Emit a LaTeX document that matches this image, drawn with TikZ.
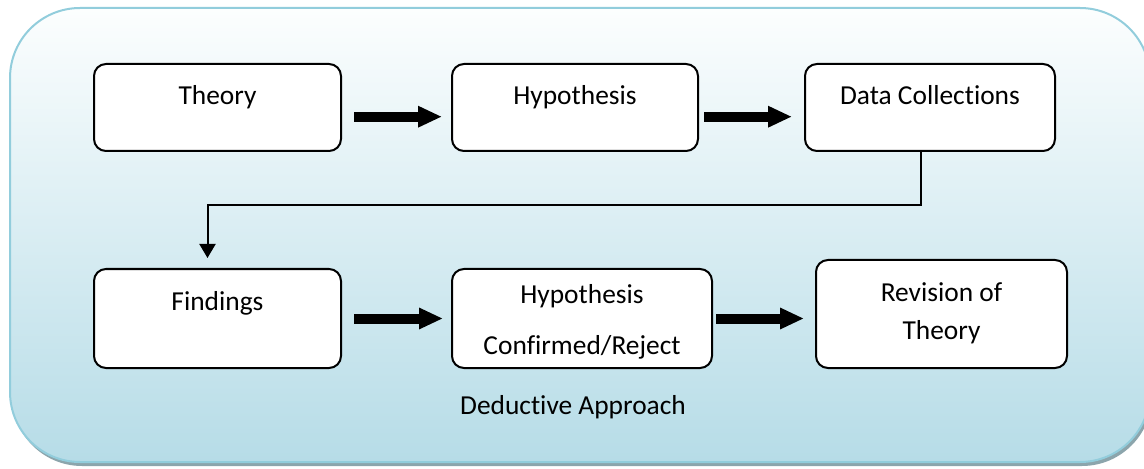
\documentclass[tikz,border=0pt]{standalone}
\usepackage{fontspec}
\setmainfont{Carlito}[Ligatures = NoCommon]
\usepackage{xcolor}
\usepackage{tikz}
\usetikzlibrary{arrows.meta}

\definecolor{aqualine}{RGB}{146,205,220}
\definecolor{aquatop}{RGB}{252,254,254}
\definecolor{aquabottom}{RGB}{182,220,231}
\definecolor{shadowgray}{RGB}{140,165,172}

\begin{document}
\begin{tikzpicture}[
        stage/.style = {draw, line width = 0.05cm, rounded corners = 0.3cm, fill = white,
            inner sep = 0pt, align = center, font = \fontsize{19.5}{27}\selectfont},
        blockarrow/.style = {line width = 0.25cm, -{Triangle[length = 0.6cm, width = 0.5cm]}},
        thinarrow/.style = {line width = 0.05cm, -{Triangle[length = 0.35cm, width = 0.4cm]}}
    ]
        \useasboundingbox (0, 0) rectangle (28.6, -11.725);

        % background panel
        \fill[shadowgray, rounded corners = 1.75cm] (0.3, -0.3) rectangle (28.8, -11.65);
        \shadedraw[top color = aquatop, bottom color = aquabottom, draw = aqualine,
            line width = 0.05cm, rounded corners = 1.75cm] (0.25, -0.2) rectangle (28.75, -11.55);

        % top row
        \node[stage, minimum width = 6.175cm, text height = 1.025cm, text depth = 1.15cm]
            (theory) at (5.4375, -2.6875) {Theory};
        \node[stage, minimum width = 6.15cm, text height = 1.025cm, text depth = 1.15cm]
            (hypo) at (14.375, -2.6875) {Hypothesis};
        \node[stage, minimum width = 6.25cm, text height = 1.025cm, text depth = 1.15cm]
            (data) at (23.25, -2.6875) {Data Collections};

        % bottom row
        \node[stage, minimum width = 6.175cm, text height = 1.025cm, text depth = 1.45cm]
            (find) at (5.4375, -7.9625) {Findings};
        \node[stage, minimum width = 6.5cm, text height = 2.125cm, text depth = 0.35cm]
            (confirm) at (14.55, -7.9625) {Hypothesis\\[8.6pt]Confirmed/Reject};
        \node[stage, minimum width = 6.275cm, text height = 1.975cm, text depth = 0.725cm]
            (revise) at (23.5375, -7.85) {Revision of\\Theory};

        \node[font = \fontsize{19.5}{27}\selectfont, anchor = base]
            (approach) at (14.325, -10.35) {Deductive Approach};

        \draw[blockarrow, shorten < = 0.3cm, shorten > = 0.225cm]
            ([yshift = -0.23cm]theory.east) -- ([yshift = -0.23cm]hypo.west);
        \draw[blockarrow, shorten < = 0.125cm, shorten > = 0.3cm]
            ([yshift = -0.23cm]hypo.east) -- ([yshift = -0.23cm]data.west);
        \draw[blockarrow, shorten < = 0.3cm, shorten > = 0.2cm]
            (find.east) -- (find.east -| confirm.west);
        \draw[blockarrow, shorten < = 0.075cm, shorten > = 0.275cm]
            (confirm.east) -- (confirm.east -| revise.west);

        \draw[thinarrow] ([xshift = -0.225cm]data.south) -- ++(0, -1.325)
            -| ([xshift = -0.25cm, yshift = 0.25cm]find.north);
    \end{tikzpicture}
\end{document}
